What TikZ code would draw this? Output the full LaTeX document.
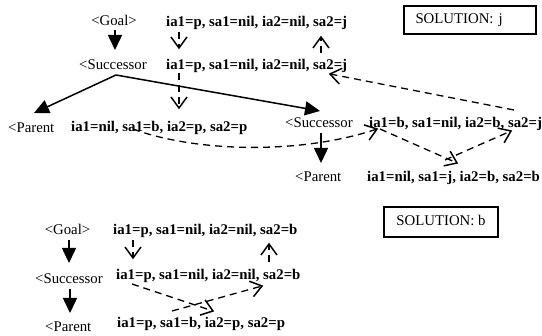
\documentclass[tikz,border=0pt]{standalone}
\usepackage{fontspec}
\setmainfont{Liberation Serif}
\usetikzlibrary{arrows.meta,decorations.markings}
\tikzset{
  lbl/.style={font=\fontsize{14.8}{17}\selectfont, inner sep=0pt, text height=9pt, text depth=0pt, anchor=west},
  st/.style={lbl, font=\fontsize{14.8}{17}\selectfont\bfseries},
  solarr/.style={line width=1.5pt, -{Triangle[width=14pt,length=15pt]}},
  dasharr/.style={line width=1.3pt, dash pattern=on 7pt off 5pt,
    postaction={decorate, decoration={markings, mark=at position 1 with {\draw[solid, line width=1.5pt] (-11pt,8pt) -- (0pt,0pt) -- (-11pt,-8pt);}}}},
  solbox/.style={draw, line width=1.2pt, font=\fontsize{14.8}{17}\selectfont, text height=9pt, text depth=2pt}
}
\begin{document}
\begin{tikzpicture}[x=1pt,y=-1pt]
\useasboundingbox (0,0) rectangle (542,336);
% ---- top tree
\node[lbl,anchor=center] (goalA) at (114,21) {\textless Goal\textgreater};
\node[st] (sA1) at (166,22) {ia1=p, sa1=nil, ia2=nil, sa2=j};
\node[solbox, minimum width=132pt, minimum height=28pt, text width=109pt, inner xsep=11.5pt, align=left] (solJ) at (470,20) {SOLUTION: j};
\node[lbl] (succA) at (79,65) {\textless Successor};
\node[st] (sA2) at (166,65) {ia1=p, sa1=nil, ia2=nil, sa2=j};
\node[lbl] (parA) at (8,128) {\textless Parent};
\node[st] (sA3) at (71,127) {ia1=nil, sa1=b, ia2=p, sa2=p};
\node[lbl] (succB) at (285,123) {\textless Successor};
\node[st] (sB2) at (369,123) {ia1=b, sa1=nil, ia2=b, sa2=j};
\node[lbl] (parB) at (295,177) {\textless Parent};
\node[st] (sB3) at (367,177) {ia1=nil, sa1=j, ia2=b, sa2=b};
% ---- bottom tree
\node[solbox, minimum width=114pt, minimum height=30pt] (solB) at (441,222) {SOLUTION: b};
\node[lbl,anchor=center] (goalC) at (67.5,230) {\textless Goal\textgreater};
\node[st] (sC1) at (113,230) {ia1=p, sa1=nil, ia2=nil, sa2=b};
\node[lbl] (succC) at (35,279) {\textless Successor};
\node[st] (sC2) at (116,275) {ia1=p, sa1=nil, ia2=nil, sa2=b};
\node[lbl] (parC) at (45,327) {\textless Parent};
\node[st] (sC3) at (117,323) {ia1=p, sa1=b, ia2=p, sa2=p};
% ---- coordinates
\coordinate (gA) at (115,30);  \coordinate (gAe) at (115,50);
\coordinate (fork) at (116,75);
\coordinate (pAtip) at (34,113); \coordinate (sBtip) at (320,111);
\coordinate (d1s) at (179,32); \coordinate (d1e) at (179,48);
\coordinate (u1s) at (321,53); \coordinate (u1e) at (321,37);
\coordinate (d2s) at (179,73); \coordinate (d2e) at (179,108);
\coordinate (b1s) at (514,110); \coordinate (b1e) at (330,74);
\coordinate (c1s) at (133,129); \coordinate (c1e) at (377,129);
\coordinate (sBd) at (321,133); \coordinate (sBde) at (321,163);
\coordinate (r1s) at (380,129); \coordinate (r1e) at (457,163);
\coordinate (r2s) at (445,160); \coordinate (r2e) at (511,131);
\coordinate (gC) at (69,240); \coordinate (gCe) at (69,263);
\coordinate (d3s) at (133,240); \coordinate (d3e) at (133,258);
\coordinate (u3s) at (269,262); \coordinate (u3e) at (269,244);
\coordinate (sC) at (70,289); \coordinate (sCe) at (70,313);
\coordinate (x1s) at (132,284); \coordinate (x1e) at (213,311);
\coordinate (x2s) at (172,311); \coordinate (x2e) at (262,286);
% ---- connectors
\draw[solarr] (gA) -- (gAe);
\draw[solarr] (fork) -- (pAtip);
\draw[solarr] (fork) -- (sBtip);
\draw[dasharr] (d1s) -- (d1e);
\draw[dasharr] (u1s) -- (u1e);
\draw[dasharr] (d2s) -- (d2e);
\draw[dasharr] (b1s) -- (b1e);
\draw[dasharr] (c1s) .. controls (195,152) and (300,155) .. (c1e);
\draw[solarr] (sBd) -- (sBde);
\draw[dasharr] (r1s) -- (r1e);
\draw[dasharr] (r2s) -- (r2e);
\draw[solarr] (gC) -- (gCe);
\draw[dasharr] (d3s) -- (d3e);
\draw[dasharr] (u3s) -- (u3e);
\draw[solarr] (sC) -- (sCe);
\draw[dasharr] (x1s) -- (x1e);
\draw[dasharr] (x2s) -- (x2e);
\end{tikzpicture}
\end{document}
